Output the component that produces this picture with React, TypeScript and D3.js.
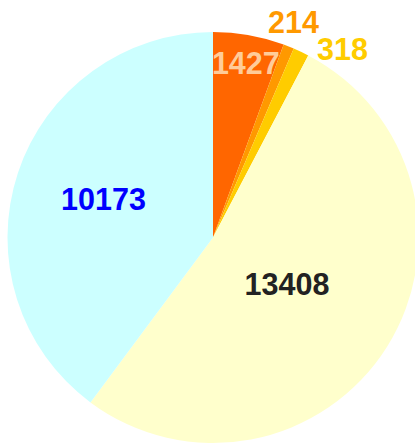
import React from "react";
import * as d3 from "d3";

const labels = ["1427", "214", "318", "13408", "10173"];
const values = [1427, 214, 318, 13408, 10173];
const sliceColors = ["#FF6600", "#FF9900", "#FFCC00", "#FFFFCC", "#CCFFFF"];
const labelColors = ["#FFCC99", "#FF9900", "#FFCC00", "#222222", "#0000FF"];
const labelRadiusFrac = [0.865, 1.12, 1.112, 0.425, 0.565];
const labelAngleShift = [0.01, -0.02, 0.16, 0, 0.02];

export default function App() {
  const W = 415;
  const H = 443;
  const cx = 213;
  const cy = 237.5;
  const r = 205.5;

  const pie = d3.pie<number>().sort(null).value((d) => d);
  const arcs = pie(values);
  const arcGen = d3.arc<d3.PieArcDatum<number>>().innerRadius(0).outerRadius(r);

  return (
    <svg
      width={W}
      height={H}
      style={{ position: "absolute", left: 0, top: 0, background: "#fff" }}
    >
      <g transform={`translate(${cx},${cy})`}>
        {arcs.map((a, i) => (
          <path key={i} d={arcGen(a) || ""} fill={sliceColors[i]} />
        ))}
        {arcs.map((a, i) => {
          const mid = (a.startAngle + a.endAngle) / 2 + labelAngleShift[i];
          const rr = r * labelRadiusFrac[i];
          const x = Math.sin(mid) * rr;
          const y = -Math.cos(mid) * rr;
          return (
            <text
              key={i}
              x={x}
              y={y}
              dy="0.36em"
              textAnchor="middle"
              fill={labelColors[i]}
              style={{
                fontFamily: "'Liberation Sans', Arial, sans-serif",
                fontWeight: "bold",
                fontSize: 30.5,
              }}
            >
              {labels[i]}
            </text>
          );
        })}
      </g>
    </svg>
  );
}
